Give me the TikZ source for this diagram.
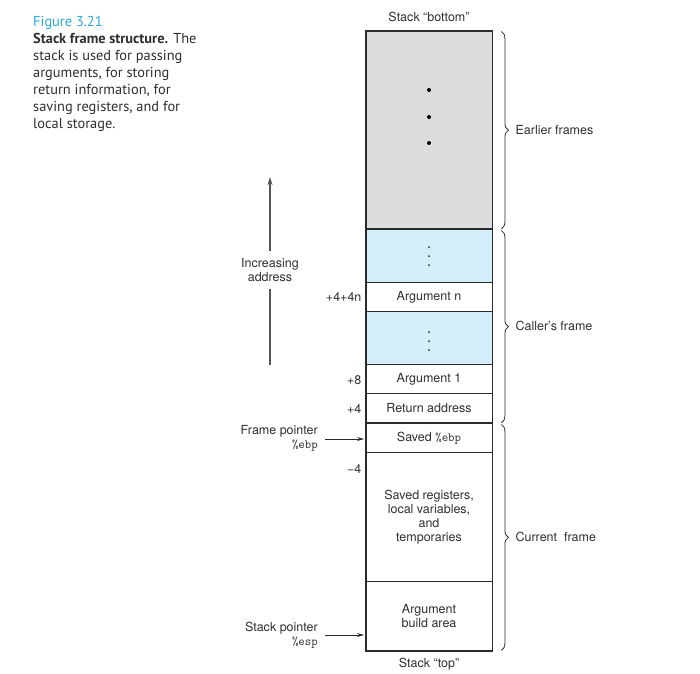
\documentclass[tikz,border=0pt]{standalone}
\usepackage{fontspec}
\setmainfont{TeX Gyre Heros}
\newfontfamily\capfont{PT Sans}
\usetikzlibrary{arrows.meta,decorations.pathreplacing,calc}
\definecolor{stackgray}{HTML}{DCDDDF}
\definecolor{stackblue}{HTML}{D3EEF9}
\definecolor{figblue}{HTML}{27A9E1}
\definecolor{captext}{HTML}{2E2E2E}
\definecolor{linecol}{HTML}{2B2B2B}
\definecolor{arrowgray}{HTML}{555555}
\begin{document}
\begin{tikzpicture}[x=1pt,y=-1pt,
  cell/.style={draw=linecol, line width=0.8pt, minimum width=126pt, inner sep=0pt, anchor=north,
    font=\fontsize{12.5}{14}\selectfont, align=center, text=captext},
  lbl/.style={font=\fontsize{12.5}{14}\selectfont, inner sep=0pt, text=captext},
  one/.style={text height=9pt, text depth=0pt},
  capline/.style={anchor=base west, inner sep=0pt, font=\capfont\fontsize{14.4}{17}\selectfont, text=captext},
  ptr/.style={draw=linecol, line width=0.9pt, -{Stealth[length=7pt,width=4pt]}, shorten >=1.5pt},
  incline/.style={draw=arrowgray, line width=1.4pt},
  bracestyle/.style={draw=linecol, line width=0.8pt, decorate, decoration={brace, amplitude=7pt}},
  bigdot/.style={fill=black},
  smalldot/.style={fill=captext}
]
\useasboundingbox (0,0) rectangle (700,673);

% caption
\node[capline, text=figblue] (c1) at (33,26) {Figure 3.21};
\node[capline] (c2) at (33,43) {\textbf{Stack frame structure.} The};
\node[capline] (c3) at (33,60) {stack is used for passing};
\node[capline] (c4) at (33,77) {arguments, for storing};
\node[capline] (c5) at (33,94) {return information, for};
\node[capline] (c6) at (33,111) {saving registers, and for};
\node[capline] (c7) at (33,128) {local storage.};

% stack cells
\node[cell, fill=stackgray, minimum height=198pt] (gray) at (429,31) {};
\node[cell, fill=stackblue, minimum height=53pt] (blue1) at (429,229) {};
\node[cell, minimum height=29pt] (argn) at (429,282) {Argument n};
\node[cell, fill=stackblue, minimum height=53pt] (blue2) at (429,311) {};
\node[cell, minimum height=29pt] (arg1) at (429,364) {Argument 1};
\node[cell, minimum height=30pt] (ret) at (429,393) {Return address};
\node[cell, minimum height=29pt] (sebp) at (429,423) {Saved \texttt{\%ebp}};
\node[cell, minimum height=129pt] (sregs) at (429,452) {Saved registers,\\local variables,\\and\\temporaries};
\node[cell, minimum height=69pt] (abuild) at (429,581) {Argument\\build area};

% heavier outlines
\draw[draw=linecol, line width=1.5pt] (gray.north west) rectangle (abuild.south east);
\draw[draw=linecol, line width=1.6pt] (blue1.north west) -- (blue1.north east);
\draw[draw=linecol, line width=1.6pt] (sebp.north west) -- (sebp.north east);

% dots
\fill[bigdot] (429,90) circle (2pt);
\fill[bigdot] (429,117) circle (2pt);
\fill[bigdot] (429,143) circle (2pt);
\fill[smalldot] (429,247) circle (1pt);
\fill[smalldot] (429,256) circle (1pt);
\fill[smalldot] (429,265) circle (1pt);
\fill[smalldot] (429,332) circle (1pt);
\fill[smalldot] (429,341) circle (1pt);
\fill[smalldot] (429,350) circle (1pt);

% top / bottom labels
\node[lbl, one] (sbot) at (429,17) {Stack “bottom”};
\node[lbl, one] (stop) at (429,663) {Stack “top”};

% offsets
\node[lbl, one, anchor=east] (o1) at ([xshift=-4pt]argn.west) {+4+4n};
\node[lbl, one, anchor=east] (o2) at ([xshift=-4pt,yshift=-1.5pt]arg1.west) {+8};
\node[lbl, one, anchor=east] (o3) at ([xshift=-4pt,yshift=-1pt]ret.west) {+4};
\node[lbl, one, anchor=east] (o4) at ([xshift=-4pt,yshift=-17pt]sregs.north west) {−4};

% pointers
\node[lbl, anchor=east, align=right] (fp) at (318,438) {Frame pointer\\\texttt{\%ebp}};
\node[lbl, anchor=east, align=right] (sp) at (318,635) {Stack pointer\\\texttt{\%esp}};
\coordinate (fpstart) at (325,439);
\coordinate (spstart) at (325,635);
\draw[ptr] (fpstart) -- (fpstart -| sebp.west);
\draw[ptr] (spstart) -- (spstart -| abuild.west);

% increasing address
\node[lbl, align=center, inner xsep=0pt, inner ysep=7pt] (inc) at (270,270) {Increasing\\address};
\coordinate (incbot) at (270,365);
\coordinate (inctop) at (270,177);
\draw[incline] (incbot) -- (inc.south);
\draw[incline, -{Stealth[length=8pt,width=5pt]}] (inc.north) -- (inctop);

% braces
\draw[bracestyle] ([xshift=9pt,yshift=-0.5pt]gray.north east) -- ([xshift=9pt,yshift=1pt]gray.south east);
\draw[bracestyle] ([xshift=9pt,yshift=-1.5pt]blue1.north east) -- ([xshift=9pt,yshift=1pt]ret.south east);
\draw[bracestyle] ([xshift=9pt,yshift=-1.5pt]sebp.north east) -- ([xshift=9pt,yshift=0.5pt]abuild.south east);

\node[lbl, one, anchor=west] (ef) at ([xshift=23pt]gray.east) {Earlier frames};
\node[lbl, one, anchor=west] (cf) at ($([xshift=23pt]blue1.north east)!0.5!([xshift=23pt]ret.south east)$) {Caller’s frame};
\node[lbl, one, anchor=west] (cur) at ($([xshift=23pt]sebp.north east)!0.5!([xshift=23pt]abuild.south east)$) {Current\ \ frame};
\end{tikzpicture}
\end{document}
